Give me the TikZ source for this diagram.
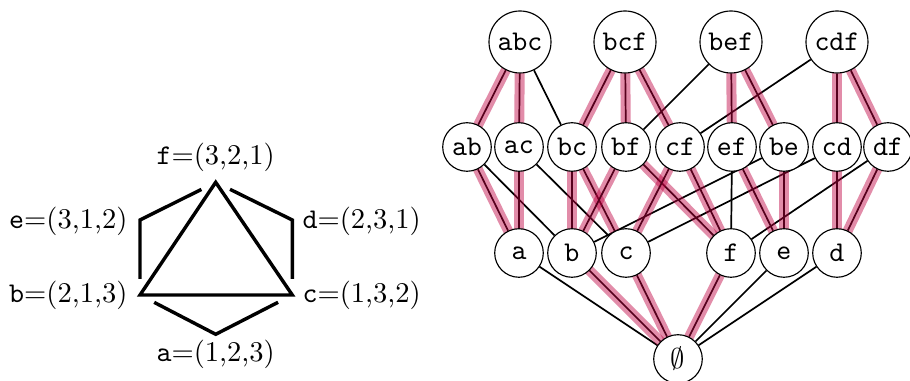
\documentclass[tikz,border=0pt]{standalone}
\pgfdeclarelayer{bg}
\pgfsetlayers{bg,main}
\begin{document}
\begin{tikzpicture}[x=0.35pt,y=-0.35pt,
  v/.style={circle,draw,fill=white,line width=0.4pt,inner sep=0pt,minimum size=17pt,font=\ttfamily},
  vt/.style={v,minimum size=21.7pt},
  ed/.style={line width=0.6pt},
  hl/.style={line width=3.5pt,purple,opacity=0.45,shorten <=-2pt,shorten >=-2pt},
  tri/.style={line width=1.2pt},
  hexe/.style={tri,shorten <=5.6pt,shorten >=5.6pt},
  lbl/.style={inner sep=0pt}]
\useasboundingbox (0,0) rectangle (910,381);
% left graph
\coordinate (F) at (215.7,182.3);
\coordinate (E) at (140,220);
\coordinate (D) at (292.3,220);
\coordinate (B) at (140,295);
\coordinate (C) at (292.3,295);
\coordinate (A) at (215.7,334.3);
\draw[tri] (F) -- (B) -- (C) -- cycle;
\draw[hexe] (F) -- (E) -- (B);
\draw[hexe] (B) -- (A) -- (C);
\draw[hexe] (C) -- (D) -- (F);
\node[lbl,anchor=south] (lf) at (215.7,172) {\texttt{f}=(3,2,1)};
\node[lbl,anchor=east] (le) at (128,221.7) {\texttt{e}=(3,1,2)};
\node[lbl,anchor=west] (ld) at (302,221.7) {\texttt{d}=(2,3,1)};
\node[lbl,anchor=east] (lb) at (128,295) {\texttt{b}=(2,1,3)};
\node[lbl,anchor=west] (lc) at (302,295) {\texttt{c}=(1,3,2)};
\node[lbl,anchor=north] (la) at (215.7,340) {\texttt{a}=(1,2,3)};
% lattice nodes
\node[vt] (abc) at (520,42) {abc};
\node[vt] (bcf) at (625,42) {bcf};
\node[vt] (bef) at (731,42) {bef};
\node[vt] (cdf) at (837,42) {cdf};
\node[v] (ab) at (467,147) {ab};
\node[v] (ac) at (519,147) {ac};
\node[v] (bc) at (572,147) {bc};
\node[v] (bf) at (626,147) {bf};
\node[v] (cf) at (680,147) {cf};
\node[v] (ef) at (732,147) {ef};
\node[v] (be) at (784,147) {be};
\node[v] (cd) at (837,147) {cd};
\node[v] (df) at (888,147) {df};
\node[v] (a) at (519,253) {a};
\node[v] (b) at (572,253) {b};
\node[v] (c) at (626,253) {c};
\node[v] (f) at (731,253) {f};
\node[v] (e) at (784,253) {e};
\node[v] (d) at (837,253) {d};
\node[v] (emp) at (678,359) {$\emptyset$};
\begin{pgfonlayer}{bg}
\foreach \p/\q in {abc/bc,bef/bf,cdf/cf,ab/b,ac/c,ef/f,be/b,cd/c,df/f,a/emp,e/emp,d/emp}
  \draw[ed] (\p) -- (\q);
\foreach \p/\q in {abc/ab,abc/ac,bcf/bc,bcf/bf,bcf/cf,bef/ef,bef/be,cdf/cd,cdf/df,ab/a,ac/a,bc/b,bc/c,bf/b,bf/f,cf/c,cf/f,ef/e,be/e,cd/d,df/d,b/emp,c/emp,f/emp}
  {\draw[ed] (\p) -- (\q);
   \draw[hl] (\p) -- (\q);}
\end{pgfonlayer}
\end{tikzpicture}
\end{document}
